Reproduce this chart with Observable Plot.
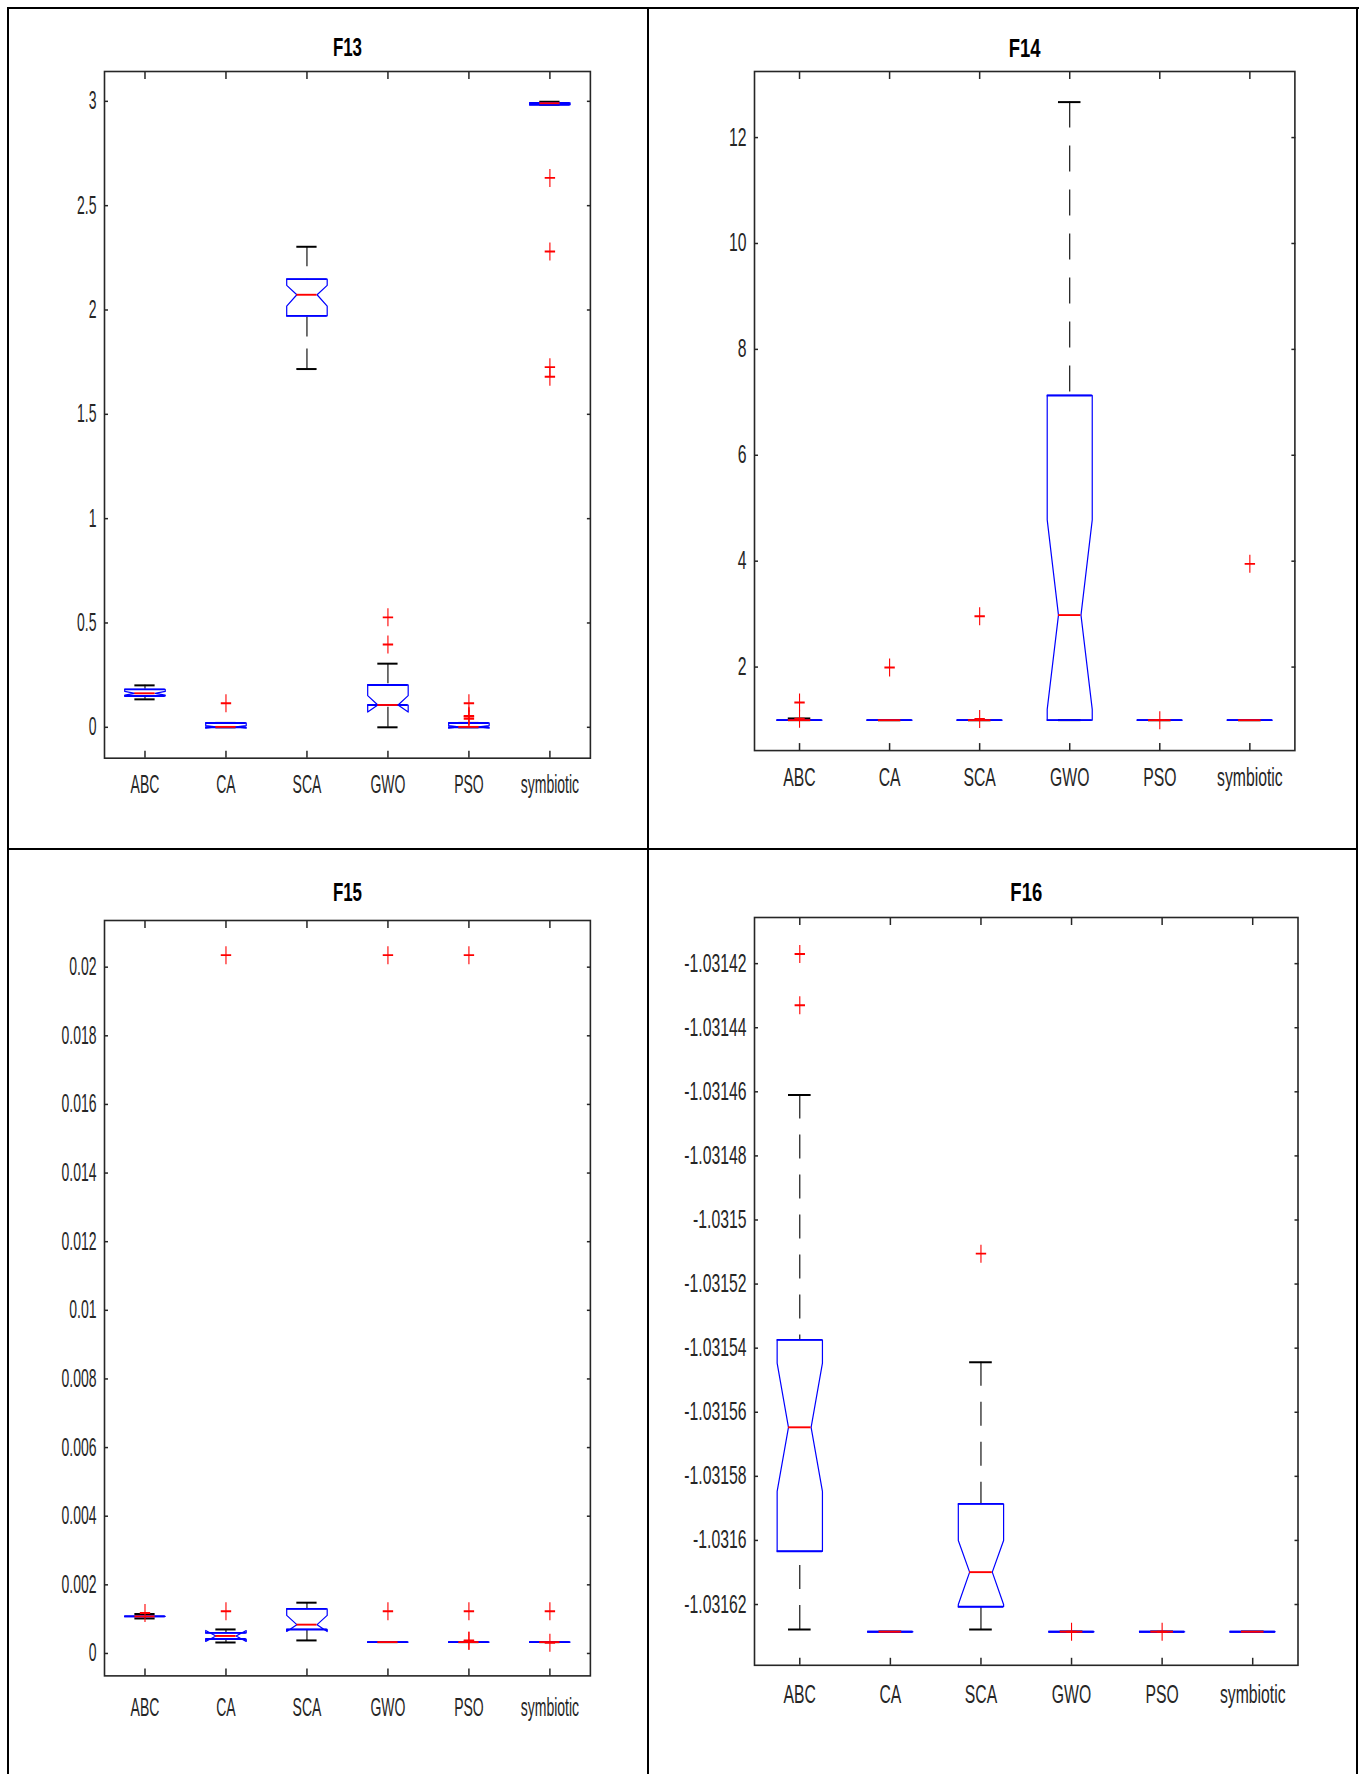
<!DOCTYPE html>
<html><head><meta charset="utf-8">
<script src="https://cdn.jsdelivr.net/npm/d3@7"></script>
<script src="https://cdn.jsdelivr.net/npm/@observablehq/plot@0.6"></script>
<style>
html,body{margin:0;padding:0;background:#fff;}
#page{position:relative;width:1363px;height:1774px;overflow:hidden;background:#fff;}
.panel{position:absolute;}
.panel svg{display:block;max-width:none !important;overflow:visible;}
.rule{position:absolute;background:#000;}
</style></head><body><div id="page"></div>
<script>
// ---------- data ----------
const methods = ["ABC", "CA", "SCA", "GWO", "PSO", "symbiotic"];

// F13
const f13Q1  = [0.150, 0.000, 1.972, 0.107, 0.000, 2.984];
const f13Med = [0.163, 0.002, 2.073, 0.107, 0.002, 2.991];
const f13Q3  = [0.182, 0.021, 2.148, 0.203, 0.021, 2.992];
const f13NLo = [0.154, -0.004, 2.019, 0.073, -0.004, 2.989];
const f13NHi = [0.172, 0.008, 2.118, 0.152, 0.008, 2.993];
const f13WLo = [0.134, 0.000, 1.717, 0.000, 0.000, 2.984];
const f13WHi = [0.201, 0.021, 2.303, 0.305, 0.021, 2.998];
const f13Out = [[], [0.115], [], [0.527, 0.397], [0.115, 0.055, 0.051, 0.041], [2.633, 2.280, 1.726, 1.680]];
const f13Ticks = [0, 0.5, 1, 1.5, 2, 2.5, 3];

// F14
const f14Q1  = [0.998, 0.998, 0.998, 0.998, 0.998, 0.998];
const f14Med = [0.998, 0.998, 0.998, 2.982, 0.998, 0.998];
const f14Q3  = [0.998, 0.998, 0.998, 7.13, 0.998, 0.998];
const f14NLo = [0.998, 0.998, 0.998, 1.20, 0.998, 0.998];
const f14NHi = [0.998, 0.998, 0.998, 4.78, 0.998, 0.998];
const f14WLo = [0.998, 0.998, 0.998, 0.998, 0.998, 0.998];
const f14WHi = [1.03, 0.998, 0.998, 12.67, 0.998, 0.998];
const f14Out = [[1.33, 1.025], [1.992], [2.961, 1.02], [], [0.998], [3.95]];
const f14Ticks = [2, 4, 6, 8, 10, 12];

// F15
const f15Q1  = [0.00108, 0.00042, 0.00070, 0.000332, 0.000332, 0.000332];
const f15Med = [0.00108, 0.00051, 0.00084, 0.000332, 0.000332, 0.000332];
const f15Q3  = [0.00108, 0.00060, 0.00130, 0.000332, 0.000332, 0.000332];
const f15NLo = [0.00108, 0.00035, 0.00064, 0.000332, 0.000332, 0.000332];
const f15NHi = [0.00108, 0.00067, 0.00111, 0.000332, 0.000332, 0.000332];
const f15WLo = [0.00102, 0.00032, 0.00038, 0.000332, 0.000332, 0.000332];
const f15WHi = [0.00115, 0.00070, 0.00148, 0.000332, 0.000332, 0.000332];
const f15Out = [[0.00118], [0.02035, 0.00123], [], [0.02035, 0.00123], [0.02035, 0.00123, 0.00038, 0.00036], [0.00123, 0.00031]];
const f15Ticks = [0, 0.002, 0.004, 0.006, 0.008, 0.01, 0.012, 0.014, 0.016, 0.018, 0.02];

// F16
const f16Q1  = [-1.0316034, -1.0316285, -1.0316207, -1.0316285, -1.0316285, -1.0316285];
const f16Med = [-1.0315647, -1.0316285, -1.0316099, -1.0316285, -1.0316285, -1.0316285];
const f16Q3  = [-1.0315374, -1.0316285, -1.0315886, -1.0316285, -1.0316285, -1.0316285];
const f16NLo = [-1.0315847, -1.0316285, -1.0316200, -1.0316285, -1.0316285, -1.0316285];
const f16NHi = [-1.0315447, -1.0316285, -1.0316000, -1.0316285, -1.0316285, -1.0316285];
const f16WLo = [-1.0316278, -1.0316285, -1.0316278, -1.0316285, -1.0316285, -1.0316285];
const f16WHi = [-1.031461, -1.0316285, -1.0315444, -1.0316285, -1.0316285, -1.0316285];
const f16Out = [[-1.031417, -1.031433], [], [-1.0315105], [-1.0316285], [-1.0316285], []];
const f16Ticks = [-1.03162, -1.0316, -1.03158, -1.03156, -1.03154, -1.03152, -1.0315, -1.03148, -1.03146, -1.03144, -1.03142];

// ---------- layout ----------
const panels = [
  {title: "F13", q1: f13Q1, med: f13Med, q3: f13Q3, nlo: f13NLo, nhi: f13NHi, wlo: f13WLo, whi: f13WHi, out: f13Out, ticks: f13Ticks,
   yDomain: [-0.148, 3.143], frame: {left: 104.4, top: 70.5, right: 590.3, bottom: 757.2},
   titleGap: 23.5, labelGap: 17, dash: "20,12", textScale: 0.56, titleScale: 0.65},
  {title: "F14", q1: f14Q1, med: f14Med, q3: f14Q3, nlo: f14NLo, nhi: f14NHi, wlo: f14WLo, whi: f14WHi, out: f14Out, ticks: f14Ticks,
   yDomain: [0.423, 13.248], frame: {left: 753.8, top: 70.5, right: 1294.2, bottom: 749.6},
   titleGap: 23, labelGap: 18, dash: "26,18", textScale: 0.63, titleScale: 0.71},
  {title: "F15", q1: f15Q1, med: f15Med, q3: f15Q3, nlo: f15NLo, nhi: f15NHi, wlo: f15WLo, whi: f15WHi, out: f15Out, ticks: f15Ticks,
   yDomain: [-0.000653, 0.02136], frame: {left: 104.4, top: 920.1, right: 590.3, bottom: 1675.5},
   titleGap: 27.5, labelGap: 22, dash: "20,12", textScale: 0.56, titleScale: 0.65},
  {title: "F16", q1: f16Q1, med: f16Med, q3: f16Q3, nlo: f16NLo, nhi: f16NHi, wlo: f16WLo, whi: f16WHi, out: f16Out, ticks: f16Ticks,
   yDomain: [-1.03163897, -1.0314056], frame: {left: 753.8, top: 917.1, right: 1297.3, bottom: 1664.9},
   titleGap: 25, labelGap: 20, dash: "24,16", textScale: 0.63, titleScale: 0.71}
];

const W = 0.25; // half box width (category units)
// plus marker, stretched vertically like the original figure (horizontal arm drawn double-thick)
const plusSymbol = {draw(ctx) {
  ctx.moveTo(-5.2, -0.4); ctx.lineTo(5.2, -0.4);
  ctx.moveTo(-5.2, 0.4); ctx.lineTo(5.2, 0.4);
  ctx.moveTo(0, -9); ctx.lineTo(0, 9);
}};
const page = document.getElementById("page");

function drawPanel(p) {
  const n = methods.length;
  const xTicks = methods.map((_, i) => i + 1);
  const stats = methods.map((m, i) => ({m, x: i + 1, q1: p.q1[i], med: p.med[i], q3: p.q3[i],
    nlo: p.nlo[i], nhi: p.nhi[i], wlo: p.wlo[i], whi: p.whi[i]}));
  const outline = stats.flatMap(d => [
    [d.x - W, d.q1], [d.x - W, d.nlo], [d.x - W / 2, d.med], [d.x - W, d.nhi], [d.x - W, d.q3],
    [d.x + W, d.q3], [d.x + W, d.nhi], [d.x + W / 2, d.med], [d.x + W, d.nlo], [d.x + W, d.q1], [d.x - W, d.q1]
  ].map(([x, y]) => ({m: d.m, x, y})));
  const outs = stats.flatMap((d, i) => p.out[i].map(v => ({m: d.m, x: d.x, v})));

  const ML = 100, MR = 20, MT = 50, MB = 60;
  const fw = p.frame.right - p.frame.left, fh = p.frame.bottom - p.frame.top;
  const svg = Plot.plot({
    width: fw + ML + MR, height: fh + MT + MB,
    marginLeft: ML, marginRight: MR, marginTop: MT, marginBottom: MB,
    x: {type: "linear", domain: [0.5, n + 0.5], label: null},
    y: {type: "linear", domain: p.yDomain, label: null},
    style: {fontFamily: "'Liberation Sans', Arial, Helvetica, sans-serif", fontSize: "25px", color: "#262626",
            background: "transparent", overflow: "visible", maxWidth: "none"},
    marks: [
      Plot.ruleX(stats.filter(d => d.whi > d.q3), {x: "x", y1: "whi", y2: "q3", stroke: "#000", strokeWidth: 1.1, strokeDasharray: p.dash}),
      Plot.ruleX(stats.filter(d => d.wlo < d.q1), {x: "x", y1: "wlo", y2: "q1", stroke: "#000", strokeWidth: 1.1, strokeDasharray: p.dash}),
      Plot.ruleY(stats, {y: "whi", x1: d => d.x - W / 2, x2: d => d.x + W / 2, stroke: "#000", strokeWidth: 2}),
      Plot.ruleY(stats, {y: "wlo", x1: d => d.x - W / 2, x2: d => d.x + W / 2, stroke: "#000", strokeWidth: 2}),
      Plot.line(outline, {x: "x", y: "y", z: "m", stroke: "#0000ff", strokeWidth: 1.2}),
      Plot.ruleY(stats, {y: "q3", x1: d => d.x - W, x2: d => d.x + W, stroke: "#0000ff", strokeWidth: 1.9}),
      Plot.ruleY(stats, {y: "q1", x1: d => d.x - W, x2: d => d.x + W, stroke: "#0000ff", strokeWidth: 1.9}),
      Plot.ruleY(stats, {y: "med", x1: d => d.x - W / 2, x2: d => d.x + W / 2, stroke: "#ff0000", strokeWidth: 1.9}),
      Plot.dot(outs, {x: "x", y: "v", symbol: plusSymbol, fill: "none", stroke: "#ff0000", strokeWidth: 1.1}),
      Plot.frame({stroke: "#262626", strokeWidth: 1.6}),
      Plot.axisY({anchor: "left", ticks: p.ticks, tickFormat: d => String(d), tickSize: -4, tickPadding: 12, strokeWidth: 1.5, label: null, fontSize: 25}),
      Plot.axisY({anchor: "right", ticks: p.ticks, tickFormat: () => "", tickSize: -4, strokeWidth: 1.5, label: null}),
      Plot.axisX({anchor: "bottom", ticks: xTicks, tickFormat: d => methods[d - 1], tickSize: -7, tickPadding: p.labelGap + 7, strokeWidth: 1.5, label: null, fontSize: 25}),
      Plot.axisX({anchor: "top", ticks: xTicks, tickFormat: () => "", tickSize: -7, strokeWidth: 1.5, label: null}),
      Plot.text([p.title], {frameAnchor: "top", dy: -p.titleGap, lineAnchor: "middle", fontSize: 26, fontWeight: "bold", fill: "#000"})
    ]
  });
  svg.querySelectorAll("text").forEach(t => {
    const s = t.textContent === p.title ? p.titleScale : p.textScale;
    let pre = "";
    const x = t.getAttribute("x");
    if (x && !/em$/.test(x)) { pre = `translate(${x},0) `; t.removeAttribute("x"); }
    const tr = t.getAttribute("transform") || "";
    t.setAttribute("transform", `${tr} ${pre}scale(${s},1)`);
  });
  const div = document.createElement("div");
  div.className = "panel";
  div.style.left = (p.frame.left - ML) + "px";
  div.style.top = (p.frame.top - MT) + "px";
  div.style.width = (fw + ML + MR) + "px";
  div.style.height = (fh + MT + MB) + "px";
  div.appendChild(svg);
  page.appendChild(div);
}
panels.forEach(drawPanel);

// outer grid lines
[[7, 7, 1352, 2], [7, 7, 2, 1767], [1356, 7, 2, 1767], [647, 7, 2, 1767], [7, 848, 1351, 2]].forEach(([l, t, w, h]) => {
  const r = document.createElement("div");
  r.className = "rule";
  Object.assign(r.style, {left: l + "px", top: t + "px", width: w + "px", height: h + "px"});
  page.appendChild(r);
});
</script></body></html>
